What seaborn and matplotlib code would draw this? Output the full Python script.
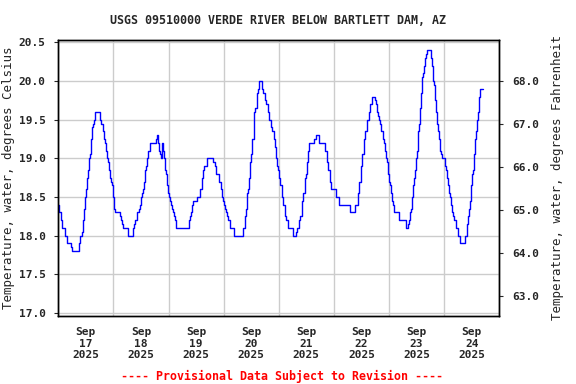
import datetime as dt
import matplotlib
matplotlib.use("Agg")
import matplotlib.pyplot as plt
import matplotlib.dates as mdates
import seaborn as sns
import pandas as pd

# Readings: hours after Sep 17 2025 00:00 where the value changes, and the new value (deg C)
hours = [0, 0.4, 1.2, 1.7, 2.9, 3.9, 5.4, 5.8, 9.2, 9.6, 10.2, 10.6, 11.0, 11.6, 12.0, 12.5,
         12.9, 13.4, 13.8, 14.2, 14.7, 15.1, 15.5, 16.1, 18.0, 18.7, 19.3, 19.9, 20.3, 20.8,
         21.2, 21.6, 22.1, 22.5, 22.9, 23.4, 23.8, 24.2, 24.8, 26.8, 27.3, 27.9, 28.3, 30.2,
         32.7, 33.1, 33.6, 34.4, 35.3, 35.7, 36.2, 36.6, 37.0, 37.5, 37.9, 38.3, 38.8, 39.2,
         40.1, 42.4, 42.8, 43.3, 43.7, 44.1, 44.6, 45.0, 45.6, 46.1, 46.5, 46.9, 47.4, 47.8,
         48.2, 48.7, 49.1, 49.5, 50.0, 50.4, 50.9, 51.3, 57.1, 57.5, 57.9, 58.4, 58.8, 60.3,
         61.7, 62.6, 63.0, 63.5, 64.6, 67.5, 68.1, 68.7, 70.0, 70.9, 71.3, 71.7, 72.2, 72.6,
         73.0, 73.5, 73.9, 74.8, 76.5, 80.6, 81.5, 81.9, 82.3, 82.8, 83.2, 83.6, 84.1, 84.5,
         85.0, 85.4, 85.8, 86.3, 86.7, 87.1, 87.6, 88.9, 89.3, 89.8, 90.2, 90.6, 91.1, 91.5,
         91.9, 92.4, 92.8, 93.2, 93.7, 94.1, 94.5, 95.0, 95.4, 95.8, 96.3, 96.7, 97.2, 97.6,
         98.0, 98.5, 98.9, 99.3, 99.8, 100.2, 102.4, 103.7, 104.1, 105.0, 105.4, 105.9, 106.3,
         106.7, 107.2, 107.6, 108.0, 108.5, 108.9, 109.3, 111.5, 112.0, 113.7, 116.3, 116.8,
         117.2, 117.6, 118.1, 118.5, 118.9, 120.7, 121.1, 122.0, 126.8, 129.4, 130.3, 130.7,
         131.1, 131.6, 132.0, 132.4, 132.9, 133.3, 133.7, 134.2, 135.1, 135.5, 135.9, 136.4,
         136.8, 138.0, 138.4, 138.8, 139.3, 139.7, 140.2, 140.6, 141.5, 141.9, 142.3, 142.8,
         143.2, 143.6, 144.1, 144.5, 145.0, 145.4, 145.8, 146.3, 148.4, 151.2, 152.1, 152.6,
         153.1, 153.5, 154.0, 154.4, 154.8, 155.3, 155.7, 156.1, 156.6, 157.0, 157.4, 157.9,
         158.3, 158.7, 159.2, 159.6, 160.0, 160.5, 162.2, 162.7, 163.1, 163.5, 164.0, 164.4,
         164.8, 165.3, 165.7, 166.1, 166.6, 167.0, 168.3, 168.8, 169.2, 169.6, 170.1, 170.5,
         170.9, 171.4, 171.8, 172.2, 173.1, 174.0, 174.9, 177.0, 177.9, 178.3, 178.8, 179.2,
         179.7, 180.1, 180.5, 181.0, 181.4, 181.8, 182.3, 182.7, 183.1, 183.6, 184.9]
temp_c = [18.4, 18.3, 18.2, 18.1, 18.0, 17.9, 17.85, 17.8, 17.9, 18.0, 18.05, 18.2, 18.35, 18.5,
          18.6, 18.75, 18.85, 19.0, 19.05, 19.25, 19.4, 19.45, 19.5, 19.6, 19.5, 19.45, 19.35,
          19.25, 19.2, 19.1, 19.0, 18.95, 18.85, 18.75, 18.7, 18.65, 18.5, 18.35, 18.3, 18.25,
          18.2, 18.15, 18.1, 18.0, 18.1, 18.15, 18.2, 18.3, 18.35, 18.4, 18.5, 18.55, 18.6,
          18.7, 18.85, 18.9, 19.0, 19.1, 19.2, 19.25, 19.3, 19.2, 19.1, 19.05, 19.0, 19.2, 19.1,
          19.0, 18.85, 18.8, 18.65, 18.55, 18.5, 18.45, 18.4, 18.35, 18.3, 18.25, 18.2, 18.1,
          18.2, 18.25, 18.3, 18.4, 18.45, 18.5, 18.6, 18.75, 18.85, 18.9, 19.0, 18.95, 18.9,
          18.8, 18.7, 18.6, 18.5, 18.45, 18.4, 18.35, 18.3, 18.25, 18.2, 18.1, 18.0, 18.1,
          18.25, 18.35, 18.55, 18.6, 18.75, 18.95, 19.05, 19.25, 19.45, 19.6, 19.65, 19.75,
          19.85, 19.9, 20.0, 19.9, 19.85, 19.8, 19.75, 19.7, 19.65, 19.6, 19.5, 19.45, 19.4,
          19.35, 19.3, 19.25, 19.15, 19.0, 18.9, 18.85, 18.75, 18.65, 18.55, 18.5, 18.4, 18.3,
          18.25, 18.2, 18.15, 18.1, 18.0, 18.05, 18.1, 18.2, 18.25, 18.4, 18.45, 18.55, 18.65,
          18.75, 18.8, 18.95, 19.1, 19.2, 19.25, 19.3, 19.2, 19.1, 19.05, 18.95, 18.85, 18.8,
          18.7, 18.6, 18.55, 18.5, 18.4, 18.3, 18.4, 18.45, 18.55, 18.7, 18.75, 18.9, 19.05,
          19.1, 19.25, 19.35, 19.5, 19.6, 19.65, 19.7, 19.75, 19.8, 19.75, 19.7, 19.6, 19.55,
          19.5, 19.45, 19.35, 19.25, 19.2, 19.1, 19.0, 18.95, 18.8, 18.7, 18.65, 18.55, 18.45,
          18.4, 18.3, 18.2, 18.1, 18.15, 18.2, 18.3, 18.35, 18.5, 18.65, 18.75, 18.85, 19.0,
          19.1, 19.35, 19.45, 19.65, 19.85, 20.05, 20.1, 20.2, 20.3, 20.35, 20.4, 20.3, 20.2,
          20.0, 19.95, 19.75, 19.6, 19.45, 19.35, 19.25, 19.1, 19.05, 19.0, 18.9, 18.85, 18.75,
          18.65, 18.55, 18.5, 18.4, 18.3, 18.25, 18.2, 18.1, 18.0, 17.9, 18.0, 18.15, 18.25,
          18.35, 18.45, 18.65, 18.8, 18.85, 19.05, 19.25, 19.35, 19.5, 19.6, 19.8, 19.9, 19.9]

title = "USGS 09510000 VERDE RIVER BELOW BARTLETT DAM, AZ"
footer = "---- Provisional Data Subject to Revision ----"
start = dt.datetime(2025, 9, 17)
end = dt.datetime(2025, 9, 25)

df = pd.DataFrame({"time": [start + dt.timedelta(hours=h) for h in hours], "temp": temp_c})

sns.set_style("white")
plt.rcParams["font.family"] = ["DejaVu Sans Mono"]
plt.rcParams["font.weight"] = "bold"
plt.rcParams["font.size"] = 8

fig = plt.figure(figsize=(5.76, 3.84), dpi=100)
ax = fig.add_axes([0.1012, 0.1771, 0.7656, 0.7195])

sns.lineplot(data=df, x="time", y="temp", ax=ax, color="#0000ff", linewidth=1.0,
             drawstyle="steps-post", estimator=None)

ylo, yhi = 16.96, 20.535
ax.set_ylim(ylo, yhi)
ax.set_xlim(start, end)
ax.set_yticks([17.0, 17.5, 18.0, 18.5, 19.0, 19.5, 20.0, 20.5])
ax.yaxis.set_major_formatter(matplotlib.ticker.FormatStrFormatter("%.1f"))

ax.xaxis.set_major_locator(mdates.HourLocator(byhour=12))
ax.xaxis.set_major_formatter(mdates.DateFormatter("%b\n%d\n%Y"))
ax.xaxis.set_minor_locator(mdates.DayLocator())
ax.grid(which="minor", axis="x", color="#cccccc", linewidth=1.0)
ax.grid(which="major", axis="y", color="#cccccc", linewidth=1.0)
ax.tick_params(axis="x", which="both", length=0, pad=8)
ax.tick_params(axis="y", length=3, direction="out", pad=6, left=True)
ax.set_axisbelow(True)
ax.set_xlabel("")
ax.set_ylabel("Temperature, water, degrees Celsius", fontsize=9, labelpad=3)

ax2 = ax.twinx()
ax2.set_ylim(ylo * 1.8 + 32, yhi * 1.8 + 32)
ax2.set_yticks([63, 64, 65, 66, 67, 68])
ax2.yaxis.set_major_formatter(matplotlib.ticker.FormatStrFormatter("%.1f"))
ax2.tick_params(axis="y", length=3, direction="out", pad=6, right=True)
ax2.set_ylabel("Temperature, water, degrees Fahrenheit", fontsize=9, labelpad=9)

for a in (ax, ax2):
    for s in a.spines.values():
        s.set_color("black")
        s.set_linewidth(1.0)

fig.text(0.4835, 1 - 20 / 384, title, ha="center", va="center", fontsize=8.4)
fig.text(0.489, 1 - 376 / 384, footer, ha="center", va="center", fontsize=8.4, color="#ff0000")

fig.savefig("out.png", dpi=100)
